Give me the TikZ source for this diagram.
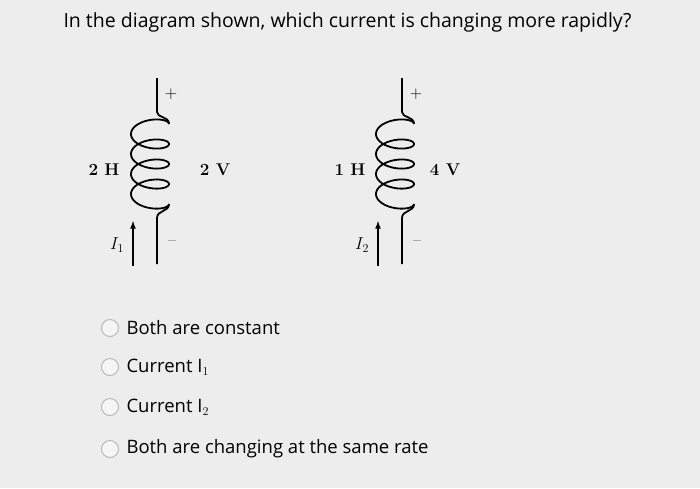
\documentclass[tikz,border=0pt]{standalone}
\usepackage{fontspec}
\setsansfont{Open Sans}
\begin{document}
\begin{tikzpicture}[x=1pt,y=-1pt,
  wire/.style={line width=1.8pt,black},
  coil/.style={line width=1.8pt,black,smooth,samples=240},
  lab/.style={font=\fontsize{17}{17}\selectfont\bfseries},
  opt/.style={anchor=west,font=\sffamily\fontsize{18.5}{19}\selectfont},
  radio/.style={circle,minimum size=17pt,inner sep=0pt,draw=gray!55,line width=1pt,fill=gray!8}]
\fill[gray!14] (0,0) rectangle (700,488);
\useasboundingbox (0,0) rectangle (700,488);
\node[anchor=west,font=\sffamily\fontsize{19.5}{20}\selectfont] (q) at (60,22) {In the diagram shown, which current is changing more rapidly?};
\foreach \cx/\nm/\L/\V/\I/\lx/\vx in {157/a/2 H/2 V/1/104/215, 402/b/1 H/4 V/2/350/445}{
  \coordinate (\nm t) at (\cx,78);
  \coordinate (\nm c) at (\cx,112);
  \coordinate (\nm e) at (\cx,218);
  \coordinate (\nm b) at (\cx,264);
  \draw[wire] (\nm t) -- (\nm c) .. controls (\cx,118) and (\cx+12,116) .. (\cx+12,124);
  \draw[coil] plot[domain=0:1440] ({\cx-7+19*cos(\x)},{124+0.0556*\x-9*sin(\x)});
  \draw[wire] (\cx+12,204) .. controls (\cx+12,212) and (\cx,210) .. (\nm e) -- (\nm b);
  \node[font=\fontsize{17}{17}\selectfont] (\nm p) at (\cx+14,94) {+};
  \node[font=\fontsize{17}{17}\selectfont] (\nm m) at (\cx+15,243) {--};
  \node[lab] (\nm L) at (\lx,170) {\L};
  \node[lab] (\nm V) at (\vx,170) {\V};
  \coordinate (\nm a1) at (\cx-24,266);
  \coordinate (\nm a2) at (\cx-24,221);
  \draw[line width=1.6pt,-latex] (\nm a1) -- (\nm a2);
  \node[font=\fontsize{17}{17}\selectfont] (\nm I) at (\cx-40,245) {$I_{\I}$};
}
\foreach \y/\t [count=\i] in {328/Both are constant,367/{Current I$_1$},407/{Current I$_2$},449/Both are changing at the same rate}{
  \node[radio] (r\i) at (110,\y) {};
  \node[opt] (o\i) at (123,\y) {\t};
}
\end{tikzpicture}
\end{document}
